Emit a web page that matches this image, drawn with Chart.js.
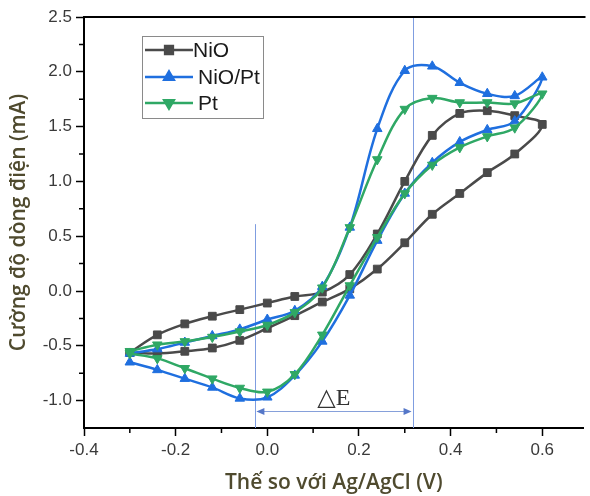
<!DOCTYPE html>
<html>
<head>
<meta charset="utf-8">
<script src="https://cdn.jsdelivr.net/npm/chart.js@4.4.1/dist/chart.umd.min.js"></script>
<style>
html, body { margin: 0; padding: 0; background: #fff; overflow: hidden; }
</style>
</head>
<body>
<canvas id="grafico" width="590" height="496"></canvas>
<script>
// potencial (V) - ida de -0.3 ate 0.6 e volta
var potencial = [-0.30, -0.24, -0.18, -0.12, -0.06, 0.00, 0.06, 0.12, 0.18, 0.24, 0.30, 0.36, 0.42, 0.48, 0.54, 0.60,
                 0.54, 0.48, 0.42, 0.36, 0.30, 0.24, 0.18, 0.12, 0.06, 0.00, -0.06, -0.12, -0.18, -0.24, -0.30];

var corrNiO = [-0.56, -0.40, -0.30, -0.23, -0.17, -0.11, -0.05, -0.01, 0.15, 0.52, 1.00, 1.42, 1.62, 1.645, 1.60, 1.52,
               1.25, 1.08, 0.89, 0.70, 0.44, 0.20, 0.02, -0.10, -0.225, -0.34, -0.45, -0.52, -0.55, -0.57, -0.56];

var corrNiOPt = [-0.57, -0.53, -0.47, -0.41, -0.35, -0.26, -0.18, 0.04, 0.58, 1.48, 2.01, 2.05, 1.90, 1.80, 1.78, 1.95,
                 1.55, 1.47, 1.36, 1.17, 0.89, 0.46, -0.04, -0.46, -0.77, -0.97, -0.98, -0.88, -0.80, -0.72, -0.65];

var corrPt = [-0.55, -0.49, -0.46, -0.42, -0.37, -0.31, -0.195, 0.03, 0.58, 1.20, 1.66, 1.76, 1.72, 1.72, 1.71, 1.80,
              1.49, 1.41, 1.31, 1.15, 0.89, 0.49, 0.05, -0.40, -0.76, -0.92, -0.885, -0.80, -0.705, -0.615, -0.57];

var nomes = ['NiO', 'NiO/Pt', 'Pt'];

// ticks menores (sem rotulo)
var ticksMenoresX = [-0.3, -0.1, 0.1, 0.3, 0.5];
var ticksMenoresY = [-0.75, -0.25, 0.25, 0.75, 1.25, 1.75, 2.25];

// linhas verticais do pico (x) e seta do delta E
var picoX = [-0.026, 0.317];
var inicioLinhaEsq = 0.61;
var setaY = -1.095;
var rotuloDE = { x: 0.145, y: -0.985, texto: '\u25B3E' };

function pontos(xs, ys){
    var lista = [];
    for (var i = 0; i < xs.length; i++) {
        lista.push({ x: xs[i], y: ys[i] });
    }
    return lista;
}

var corTitulo = '#4f4a2e';

var extras = {
    id: 'extras',
    beforeDatasetsDraw: function(chart){
        var ctx = chart.ctx, sx = chart.scales.x, sy = chart.scales.y, area = chart.chartArea;
        ctx.save();
        ctx.strokeStyle = '#7f9de0';
        ctx.lineWidth = 1;
        var x1 = Math.round(sx.getPixelForValue(picoX[0])) + 0.5;
        var x2 = Math.round(sx.getPixelForValue(picoX[1])) + 0.5;
        ctx.beginPath();
        ctx.moveTo(x1, sy.getPixelForValue(inicioLinhaEsq));
        ctx.lineTo(x1, area.bottom);
        ctx.moveTo(x2, area.top);
        ctx.lineTo(x2, area.bottom);
        ctx.stroke();

        // ticks menores
        ctx.strokeStyle = '#000';
        ctx.lineWidth = 1.5;
        ctx.beginPath();
        for (var i = 0; i < ticksMenoresX.length; i++) {
            var px = sx.getPixelForValue(ticksMenoresX[i]);
            ctx.moveTo(px, area.bottom);
            ctx.lineTo(px, area.bottom + 5);
        }
        for (var j = 0; j < ticksMenoresY.length; j++) {
            var py = sy.getPixelForValue(ticksMenoresY[j]);
            ctx.moveTo(area.left, py);
            ctx.lineTo(area.left - 5, py);
        }
        ctx.stroke();
        ctx.restore();
    },
    afterDatasetsDraw: function(chart){
        var ctx = chart.ctx, sx = chart.scales.x, sy = chart.scales.y, area = chart.chartArea;
        ctx.save();

        // seta delta E
        var x1 = sx.getPixelForValue(picoX[0]) + 1;
        var x2 = sx.getPixelForValue(picoX[1]) - 1;
        var yy = Math.round(sy.getPixelForValue(setaY)) + 0.5;
        ctx.strokeStyle = '#86a0da';
        ctx.fillStyle = '#5577c8';
        ctx.lineWidth = 1.2;
        ctx.beginPath();
        ctx.moveTo(x1 + 4, yy);
        ctx.lineTo(x2 - 4, yy);
        ctx.stroke();
        ctx.beginPath();
        ctx.moveTo(x1, yy); ctx.lineTo(x1 + 8, yy - 3.5); ctx.lineTo(x1 + 8, yy + 3.5); ctx.closePath();
        ctx.moveTo(x2, yy); ctx.lineTo(x2 - 8, yy - 3.5); ctx.lineTo(x2 - 8, yy + 3.5); ctx.closePath();
        ctx.fill();

        ctx.fillStyle = '#333';
        ctx.font = '24px "Liberation Serif", "DejaVu Serif", serif';
        ctx.textAlign = 'center';
        ctx.textBaseline = 'middle';
        ctx.fillText(rotuloDE.texto, sx.getPixelForValue(rotuloDE.x), sy.getPixelForValue(rotuloDE.y));

        // borda de cima
        ctx.strokeStyle = '#000';
        ctx.lineWidth = 2;
        ctx.beginPath();
        ctx.moveTo(area.left - 1, area.top);
        ctx.lineTo(area.right + 2, area.top);
        ctx.stroke();

        // legenda
        var lx = area.left + 58, ly = area.top + 19;
        ctx.strokeStyle = '#8a8a8a';
        ctx.lineWidth = 1;
        ctx.strokeRect(lx + 0.5, ly + 0.5, 121, 82);
        var ds = chart.data.datasets;
        var alturas = [14, 41, 67];
        ctx.font = '21px "Liberation Sans", Arial, sans-serif';
        ctx.textAlign = 'left';
        ctx.textBaseline = 'middle';
        for (var i = 0; i < ds.length; i++) {
            var yl = ly + alturas[i];
            ctx.strokeStyle = ds[i].borderColor;
            ctx.lineWidth = 2.5;
            ctx.beginPath();
            ctx.moveTo(lx + 3, yl);
            ctx.lineTo(lx + 51, yl);
            ctx.stroke();
            ctx.fillStyle = ds[i].backgroundColor;
            ctx.strokeStyle = ds[i].borderColor;
            Chart.helpers.drawPoint(ctx, {
                pointStyle: ds[i].pointStyle,
                radius: ds[i].pointRadius,
                rotation: ds[i].pointRotation || 0,
                borderWidth: 1
            }, lx + 27, yl);
            ctx.fillStyle = '#1a1a1a';
            ctx.fillText(nomes[i], lx + (i == 0 ? 51 : 56), yl + 1);
        }
        ctx.restore();
    }
};

function rotulo(v){
    return v.toFixed(1);
}

var fonteTick = { family: '"Liberation Sans", Arial, sans-serif', size: 17 };
var fonteTitulo = { family: '"Open Sans", sans-serif', size: 21, weight: '600' };

var contexto = document.getElementById("grafico").getContext("2d");

var grafico = new Chart(contexto, {
    type: 'scatter',
    data: {
        datasets: [{
            label: nomes[0],
            data: pontos(potencial, corrNiO),
            borderColor: '#4a4a4a',
            backgroundColor: '#4a4a4a',
            pointStyle: 'rect',
            pointRadius: 5.5,
            order: 3
        }, {
            label: nomes[1],
            data: pontos(potencial, corrNiOPt),
            borderColor: '#1f6fdf',
            backgroundColor: '#1f6fdf',
            pointStyle: 'triangle',
            pointRadius: 5.5,
            order: 2
        }, {
            label: nomes[2],
            data: pontos(potencial, corrPt),
            borderColor: '#2fa865',
            backgroundColor: '#2fa865',
            pointStyle: 'triangle',
            pointRotation: 180,
            pointRadius: 5.5,
            order: 1
        }]
    },
    options: {
        responsive: false,
        animation: false,
        showLine: true,
        elements: {
            line: { borderWidth: 2.5, tension: 0.35 },
            point: { borderWidth: 1 }
        },
        layout: { padding: { top: 17, right: 1, left: 0, bottom: 0 } },
        plugins: {
            legend: { display: false },
            tooltip: { enabled: false }
        },
        scales: {
            x: {
                type: 'linear',
                min: -0.4,
                max: 0.69,
                afterFit: function(s){ s.height = 68; },
                ticks: {
                    stepSize: 0.2,
                    includeBounds: false,
                    autoSkip: false,
                    maxRotation: 0,
                    callback: rotulo,
                    color: '#3a3a3a',
                    padding: 4,
                    font: fonteTick
                },
                grid: { drawOnChartArea: false, tickLength: 8, tickColor: '#000', tickWidth: 1.5 },
                border: { color: '#000', width: 2 },
                title: {
                    display: true,
                    text: 'Thế so với Ag/AgCl (V)',
                    color: corTitulo,
                    font: fonteTitulo,
                    padding: { top: 0, bottom: 0 }
                }
            },
            y: {
                min: -1.25,
                max: 2.5,
                afterFit: function(s){ s.width = 84; },
                ticks: {
                    stepSize: 0.5,
                    includeBounds: false,
                    autoSkip: false,
                    callback: rotulo,
                    color: '#3a3a3a',
                    padding: 4,
                    font: fonteTick
                },
                grid: { drawOnChartArea: false, tickLength: 8, tickColor: '#000', tickWidth: 1.5 },
                border: { color: '#000', width: 2 },
                title: {
                    display: true,
                    text: 'Cường độ dòng điện (mA)',
                    color: corTitulo,
                    font: fonteTitulo,
                    padding: { top: 6, bottom: 0 }
                }
            }
        }
    },
    plugins: [extras]
});
</script>
</body>
</html>
